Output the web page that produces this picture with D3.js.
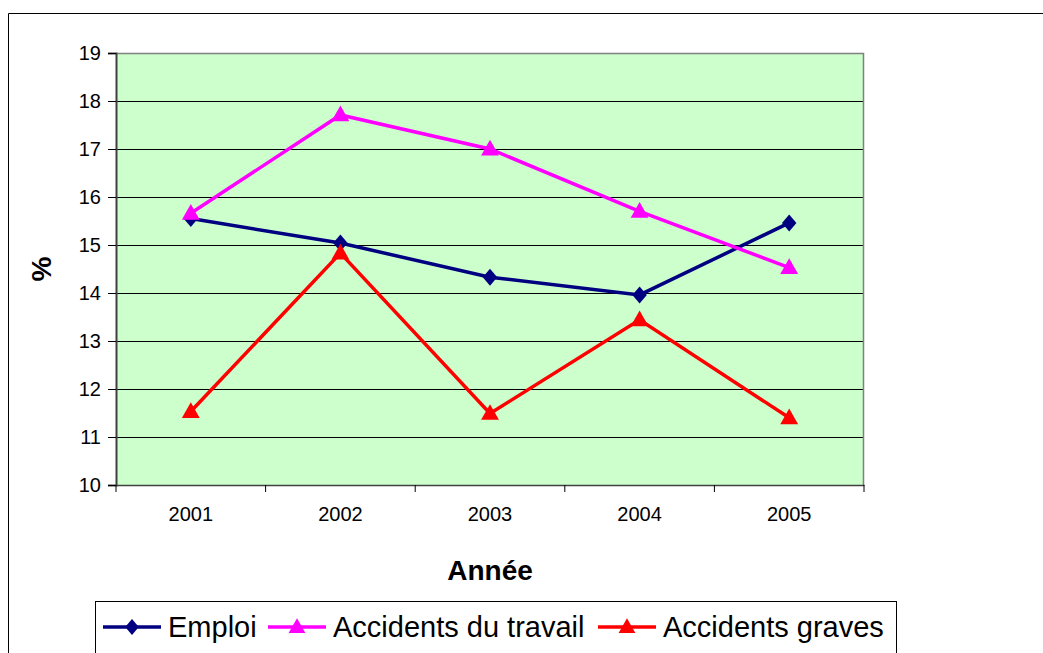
<!DOCTYPE html>
<html><head><meta charset="utf-8">
<script src="https://cdn.jsdelivr.net/npm/d3@7"></script>
<style>body{margin:0;background:#fff}svg{display:block;font-family:Arial,"Liberation Sans",sans-serif}</style>
</head><body><svg id="c" width="1043" height="653"></svg>
<script>
const years = ["2001","2002","2003","2004","2005"];
const emploi = [15.55, 15.04, 14.33, 13.96, 15.46];
const accidentsTravail = [15.66, 17.71, 17.0, 15.70, 14.53];
const accidentsGraves = [11.53, 14.83, 11.49, 13.44, 11.40];
const yTicks = [10,11,12,13,14,15,16,17,18,19];
const seriesNames = ["Emploi","Accidents du travail","Accidents graves"];
const seriesColors = ["#000080","#FF00FF","#FF0000"];
const seriesShapes = ["diamond","triangle","triangle"];

const FF = "Arial, 'Liberation Sans', sans-serif";
const svg = d3.select("#c");
const L=116,R=864,T=53,B=485;
svg.append("path").attr("d","M8.5,660 V13.5 H1050").attr("fill","none").attr("stroke","#000").attr("stroke-width",1);

const x = d3.scaleBand().domain(years).range([L,R]).padding(0);
const y = d3.scaleLinear().domain([10,19]).range([B,T]);

svg.append("rect").attr("x",L).attr("y",T).attr("width",R-L).attr("height",B-T).attr("fill","#CCFFCC");
svg.append("g").selectAll("line").data(yTicks.slice(1,-1)).join("line")
  .attr("x1",L).attr("x2",R).attr("y1",d=>Math.round(y(d))+0.5).attr("y2",d=>Math.round(y(d))+0.5)
  .attr("stroke","#000").attr("stroke-width",1);
svg.append("path").attr("d",`M${L},${T+0.5} H${R-0.5} V${B}`).attr("fill","none").attr("stroke","#808080").attr("stroke-width",1.5);

const ya = svg.append("g").attr("transform",`translate(${L},0)`)
  .call(d3.axisLeft(y).tickValues(yTicks).tickSize(8).tickPadding(7).tickFormat(d3.format("d")));
ya.select(".domain").attr("stroke","#404040").attr("stroke-width",2);
ya.selectAll(".tick line").attr("stroke","#000");
ya.selectAll("text").attr("font-size",20).attr("fill","#000").attr("font-family",FF);

const xa = svg.append("g").attr("transform",`translate(0,${B})`)
  .call(d3.axisBottom(x).tickSize(0).tickPadding(22));
xa.select(".domain").attr("stroke","#404040").attr("stroke-width",1.5);
xa.selectAll("text").attr("font-size",20).attr("fill","#000").attr("font-family",FF);
const bounds = years.map(d=>x(d)).concat([R]);
xa.selectAll(".bt").data(bounds).join("line").attr("class","bt")
  .attr("x1",d=>d).attr("x2",d=>d).attr("y1",0).attr("y2",7).attr("stroke","#000");

svg.append("text").attr("x",490).attr("y",580).attr("text-anchor","middle")
  .attr("font-size",28).attr("font-weight","bold").text("Année");
svg.append("text").attr("transform","translate(51,269) rotate(-90)").attr("text-anchor","middle")
  .attr("font-size",28).attr("font-weight","bold").text("%");

const data = [emploi, accidentsTravail, accidentsGraves];
const line = d3.line().x((d,i)=>x(years[i])+x.bandwidth()/2).y(d=>y(d));
function marker(g, shape, color, cx, cy, s){
  if(shape==="diamond"){
    g.append("path").attr("d",`M${cx},${cy-s} L${cx+s*0.85},${cy} L${cx},${cy+s} L${cx-s*0.85},${cy} Z`).attr("fill",color);
  } else {
    g.append("path").attr("d",`M${cx},${cy-s*1.1} L${cx+s*1.05},${cy+s*0.75} L${cx-s*1.05},${cy+s*0.75} Z`).attr("fill",color);
  }
}
data.forEach((vals,si)=>{
  svg.append("path").datum(vals).attr("d",line).attr("fill","none")
    .attr("stroke",seriesColors[si]).attr("stroke-width",3.5);
  const g = svg.append("g");
  vals.forEach((v,i)=>marker(g, seriesShapes[si], seriesColors[si], x(years[i])+x.bandwidth()/2, y(v), 8.5));
});

svg.append("rect").attr("x",95.5).attr("y",601.5).attr("width",801).attr("height",70)
  .attr("fill","#fff").attr("stroke","#000").attr("stroke-width",1);
const legX = [103, 268, 598];
seriesNames.forEach((n,i)=>{
  const g = svg.append("g");
  const lx = legX[i], ly = 627;
  g.append("line").attr("x1",lx).attr("x2",lx+58).attr("y1",ly).attr("y2",ly)
    .attr("stroke",seriesColors[i]).attr("stroke-width",3.5);
  marker(g, seriesShapes[i], seriesColors[i], lx+29, ly, 8);
  g.append("text").attr("x",lx+65).attr("y",ly+10).attr("font-size",29).attr("font-family",FF).text(n);
});
</script></body></html>
